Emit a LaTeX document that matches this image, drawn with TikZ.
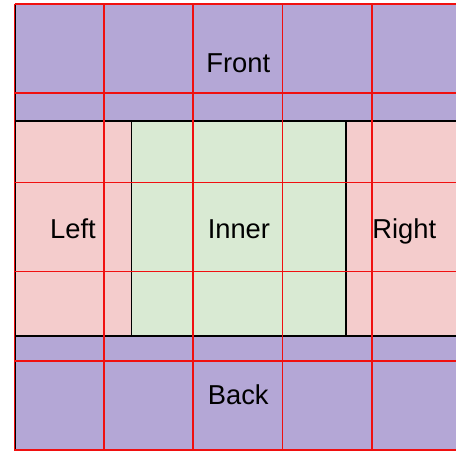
\documentclass[tikz,border=0pt]{standalone}
\usepackage{fontspec}
\setmainfont{Liberation Sans}
\usepackage{xcolor}
\usepackage{tikz}
\usetikzlibrary{positioning, calc}
\definecolor{frontbg}{HTML}{B4A7D6}
\definecolor{sidebg}{HTML}{F4CCCC}
\definecolor{innerbg}{HTML}{D9EAD3}
\definecolor{gridred}{HTML}{F01010}

\begin{document}
\begin{tikzpicture}[
            x=0.75pt, y=-0.75pt,
            region/.style={draw=black, line width=0.7pt, inner sep=0pt, anchor=north west,
                           text height=14.5pt, text depth=0pt,
                           font=\fontsize{20.5}{24}\selectfont, text=black},
            gridln/.style={gridred, line width=1.2pt}
        ]
            \useasboundingbox (0,0) rectangle (456,450);
            \clip (0,0) rectangle (456,450);
            % outer bands
            \node[region, fill=frontbg, minimum width=334.9pt, minimum height=87pt] (front) at (14.5,4) {Front};
            \node[region, fill=sidebg, minimum width=87pt, minimum height=160.5pt] (left) at (front.south west) {Left};
            \node[region, fill=innerbg, minimum width=160.5pt, minimum height=160.5pt] (inner) at (left.north east) {Inner};
            \node[region, fill=sidebg, minimum width=86.25pt, minimum height=160.5pt] (right) at (inner.north east) {Right};
            \node[region, fill=frontbg, minimum width=334.9pt, minimum height=87pt] (back) at (left.south west) {Back};

            % grid on top
            \foreach \k in {0,...,5} {
                \draw[gridln] ($(front.north west)+(89.35*\k,0)$) -- ++(0,447);
                \draw[gridln] ($(front.north west)+(0,89.2*\k)$) -- ++(447,0);
            }
        \end{tikzpicture}
\end{document}
